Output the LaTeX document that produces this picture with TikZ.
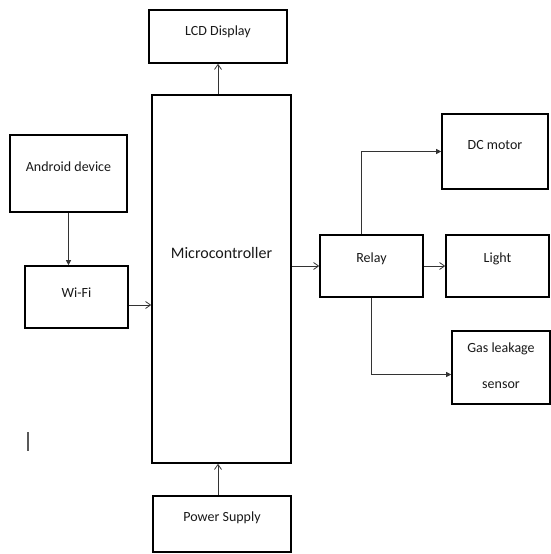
\documentclass[tikz,border=0pt]{standalone}
\usepackage{fontspec}
\setmainfont{Carlito}
\usetikzlibrary{arrows.meta}
\tikzset{
  blk/.style={draw=black, line width=1.6pt, inner sep=0pt, fill=white},
  txt/.style={font=\fontsize{14}{17}\selectfont, text=black!90, align=center},
  open/.style={-{Straight Barb[length=5pt, width=7pt]}, line width=0.8pt, draw=black!80},
  solid/.style={-{Triangle[length=5pt, width=5pt]}, line width=0.8pt, draw=black!80},
}

\begin{document}
\begin{tikzpicture}[x=1pt, y=-1pt]
  \useasboundingbox (0,0) rectangle (551,554);
  % blocks
  \node (lcd) [blk, minimum width=138pt, minimum height=53pt,
    label={[txt, yshift=4.5pt]center:LCD Display}] at (218,36.5) {};
  \node (mcu) [blk, minimum width=139pt, minimum height=368pt,
    label={[txt, font=\fontsize{16}{19}\selectfont, yshift=26pt]center:Microcontroller}] at (221.5,279) {};
  \node (pwr) [blk, minimum width=138pt, minimum height=56pt,
    label={[txt, yshift=6pt]center:Power Supply}] at (222,524) {};
  \node (andr) [blk, minimum width=117pt, minimum height=77pt,
    label={[txt, yshift=6.5pt]center:Android device}] at (68.5,173.5) {};
  \node (wifi) [blk, minimum width=103pt, minimum height=62pt,
    label={[txt, yshift=4pt]center:Wi-Fi}] at (76.5,297) {};
  \node (relay) [blk, minimum width=103pt, minimum height=62pt,
    label={[txt, yshift=7pt]center:Relay}] at (371.5,266) {};
  \node (light) [blk, minimum width=103pt, minimum height=62pt,
    label={[txt, yshift=7pt]center:Light}] at (497.5,266) {};
  \node (dcm) [blk, minimum width=106pt, minimum height=75pt,
    label={[txt, yshift=6.5pt]center:DC motor}] at (495,151.5) {};
  \node (gas) [blk, minimum width=98pt, minimum height=73pt,
    label={[txt, yshift=1.5pt]center:Gas leakage\\[19pt]sensor}] at (501,367.5) {};

  % connections
  \draw[open] (lcd.south |- mcu.north) -- (lcd.south);
  \draw[open] ([xshift=-4pt]pwr.north) -- ([xshift=-4pt]pwr.north |- mcu.south);
  \draw[solid] (andr.south) -- (andr.south |- wifi.north);
  \draw[open] ([yshift=-8pt]wifi.east) -- ([yshift=-8pt]wifi.east -| mcu.west);
  \draw[open] (relay.west -| mcu.east) -- (relay.west);
  \draw[open] (relay.east) -- (light.west);
  \draw[solid] ([xshift=-10.5pt]relay.north) |- (dcm.west);
  \draw[solid] (relay.south) |- ([yshift=-7pt]gas.west);

  \draw[black!65, line width=1.5pt] (28,432) -- (28,451);
\end{tikzpicture}
\end{document}
